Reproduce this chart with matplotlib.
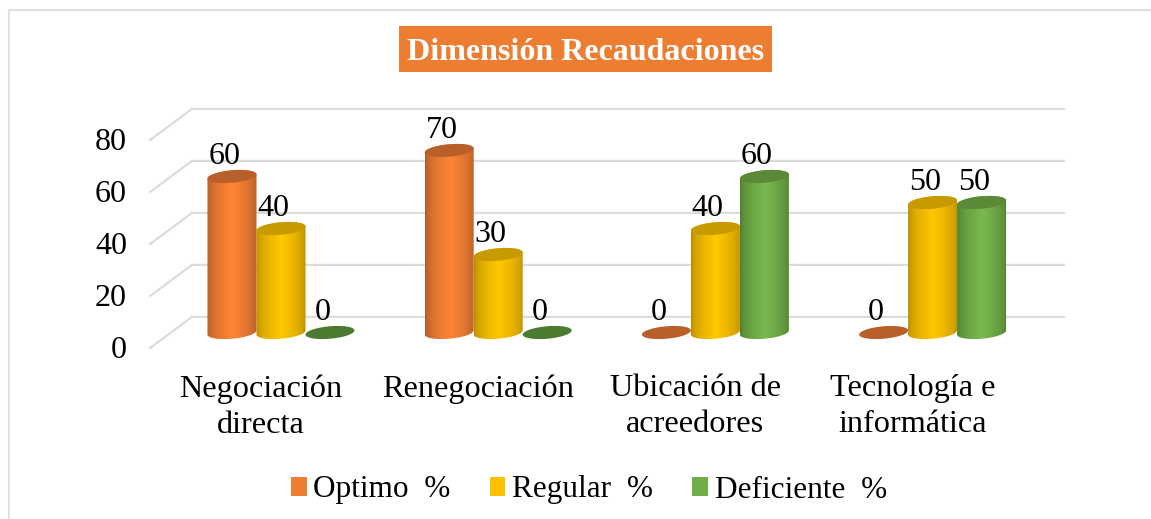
import matplotlib.pyplot as plt
from matplotlib.colors import to_rgb
from matplotlib.lines import Line2D
from matplotlib.patches import PathPatch, Patch, Rectangle
from matplotlib.path import Path
import numpy as np

plt.rcParams["font.family"] = ["Liberation Serif", "DejaVu Serif"]

# datos
categorias = ["Negociación\ndirecta", "Renegociación", "Ubicación de\nacreedores", "Tecnología e\ninformática"]
series = ["Optimo  %", "Regular  %", "Deficiente  %"]
optimo = [60, 70, 0, 0]
regular = [40, 30, 40, 50]
deficiente = [0, 0, 60, 50]
valores_y = [0, 20, 40, 60, 80]
titulo = "Dimensión Recaudaciones"

# colores: borde del cilindro, centro, tapa, leyenda
borde = ["#A9582A", "#B58700", "#4C7A2E"]
centro = ["#FF8534", "#FFC800", "#79B84E"]
tapa = ["#B9602A", "#C79A00", "#5A8A38"]
leyenda = ["#ED7D31", "#FFC000", "#70AD47"]

W, H = 1151, 519
fig = plt.figure(figsize=(W / 100, H / 100), dpi=100)
ax = fig.add_axes([150 / W, 1 - 332.5 / H, (1064 - 150) / W, 208 / H])
ax.set_facecolor("none")
ax.set_xlim(-0.603, 3.605)
ax.set_ylim(0, 80)

# marco de la imagen
fig.add_artist(Line2D([9 / W, 9 / W, 1], [0, 1 - 10 / H, 1 - 10 / H], color="#E0E0E0", lw=1.5))

# titulo
fig.add_artist(Rectangle((399 / W, 1 - 72 / H), 373 / W, 46 / H, color="#ED7D31", lw=0))
fig.text(585.5 / W, 1 - 53 / H, titulo, color="white", fontsize=23, fontweight="bold", ha="center", va="center")

# rejilla en perspectiva
fondo = 6
x_pared = -0.41
for v in valores_y:
    ax.plot([ax.get_xlim()[0], x_pared, ax.get_xlim()[1]], [v - fondo, v + fondo, v + fondo],
            color="#DCDCDC", lw=1.6, clip_on=False, zorder=1)

ancho = 49 / 217.2
a = ancho / 2
b = 2.4
sesgo = 0.8
t = np.linspace(0, 2 * np.pi, 80)
gradiente = np.linspace(0, 1, 128)


def elipse(xc, yc):
    return xc + a * np.cos(t), yc + b * np.sin(t) + sesgo * np.cos(t)


def cilindro(xc, v, s, z):
    ex, ey = elipse(xc, v)
    if v > 0:
        ix, iy = elipse(xc, 0)
        sup = t <= np.pi
        inf = t >= np.pi
        px = np.r_[ex[sup], ix[inf]]
        py = np.r_[ey[sup], iy[inf]]
        cuerpo = PathPatch(Path(np.c_[px, py]), fc="none", ec="none", transform=ax.transData, clip_on=False)
        ax.add_patch(cuerpo)
        c0 = np.array(to_rgb(borde[s]))
        c1 = np.array(to_rgb(centro[s]))
        peso = np.clip(1 - np.abs(gradiente - 0.5) * 2, 0, 1) ** 0.5
        img = (c0[None, :] * (1 - peso[:, None]) + c1[None, :] * peso[:, None])[None, :, :]
        im = ax.imshow(img, extent=(xc - a, xc + a, -b - 2, v + b + 2), aspect="auto",
                       origin="lower", zorder=z, interpolation="bilinear")
        im.set_clip_path(cuerpo)
        im.set_clip_box(fig.bbox)
    ax.fill(ex, ey, color=tapa[s] if v > 0 or s != 2 else borde[s], lw=0, zorder=z + 0.1, clip_on=False)


posiciones = np.arange(len(categorias))
paso = 49 / 217.2
for i, x0 in enumerate(posiciones):
    for s, datos in enumerate([optimo, regular, deficiente]):
        xc = x0 + (s - 1) * paso
        cilindro(xc, datos[i], s, 3 + i + s * 0.2)

ax.set_xlim(-0.603, 3.605)
ax.set_ylim(0, 80)

# etiquetas de datos
for i, x0 in enumerate(posiciones):
    for s, datos in enumerate([optimo, regular, deficiente]):
        xc = x0 + (s - 1) * paso
        ax.text(xc - 0.035, datos[i] + 7.7, str(datos[i]), fontsize=23, ha="center", va="center", zorder=20)

# ejes
for spine in ax.spines.values():
    spine.set_visible(False)
ax.set_xticks(posiciones - 0.092, categorias, fontsize=23.2, linespacing=1.33)
ax.tick_params(axis="x", length=0, pad=30)
ax.set_yticks([])
for v in valores_y:
    ax.text(-0.709, v - fondo - 0.8, str(v), fontsize=23, ha="right", va="center", clip_on=False)

# leyenda
handles = [Patch(color=c, lw=0) for c in leyenda]
fig.legend(handles, series, loc="center", bbox_to_anchor=(589 / W, 1 - 490 / H), ncol=3, frameon=False,
           fontsize=22.5, handlelength=0.5, handleheight=0.52, handletextpad=0.22, columnspacing=1.25)

fig.savefig("out.png", dpi=100)
